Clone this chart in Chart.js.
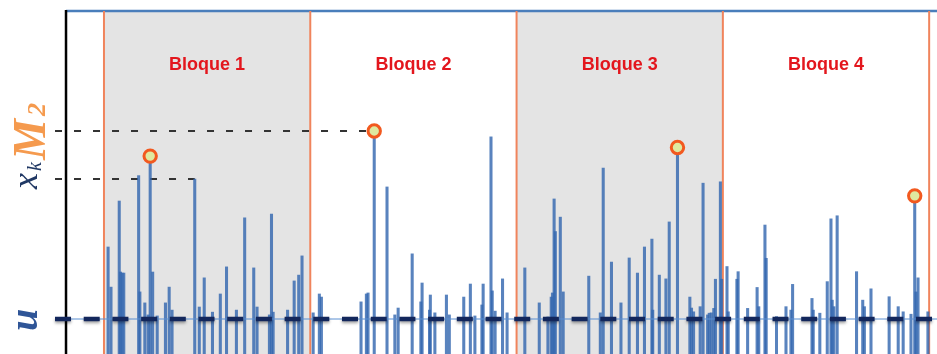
<!DOCTYPE html>
<html>
<head>
<meta charset="utf-8">
<script src="https://cdn.jsdelivr.net/npm/chart.js@4.4.1/dist/chart.umd.min.js"></script>
<style>
  html, body { margin: 0; padding: 0; background: #ffffff; }
  #wrap { width: 937px; height: 354px; }
</style>
</head>
<body>
<div id="wrap"><canvas id="c" width="937" height="354"></canvas></div>
<script>
// ---- data (time units: block length = 50; values in arbitrary units) ----
const blockLabels = ['Bloque 1', 'Bloque 2', 'Bloque 3', 'Bloque 4'];
const blockEdges = [0, 50, 100, 150, 200];
const shadedBlocks = [0, 2];

const obsTime = [
  1.0,1.7,3.7,4.0,4.4,4.8,8.4,8.7,9.9,10.7,11.2,11.8,12.9,14.9,15.8,16.5,22.0,23.1,24.3,26.3,28.2,29.7,32.1,34.1,36.3,37.1,40.1,40.6,41.0,44.5,46.1,47.2,48.0,
  50.7,52.2,52.7,62.3,63.6,64.0,65.5,68.6,70.5,71.3,74.7,76.8,77.1,78.9,79.1,80.2,83.0,83.7,87.2,88.8,89.9,91.6,91.9,93.8,94.1,94.8,96.6,97.7,
  102.0,105.5,107.6,108.4,108.7,109.1,109.4,110.6,111.3,117.5,120.3,121.0,123.0,125.3,127.3,129.3,131.0,132.8,133.0,134.6,136.2,137.0,139.0,142.0,142.4,142.9,144.5,145.2,146.3,146.7,147.2,147.8,148.2,149.4,149.7,
  151.0,151.3,153.4,153.7,156.0,158.3,158.7,160.2,160.5,163.0,165.3,166.5,166.9,171.6,171.9,173.5,175.3,176.2,176.5,176.9,177.7,182.4,183.9,184.3,185.9,190.3,192.5,193.7,195.6,196.5,196.8,197.3,199.7
];
const obsValue = [
  31.2,19.5,44.6,23.9,23.6,23.6,52.0,18.1,14.9,11.4,57.7,23.9,11.1,14.9,19.5,12.8,51.0,13.7,22.2,12.2,17.5,25.4,12.8,39.7,25.1,13.7,11.4,40.8,12.2,12.8,21.3,23.0,28.6,
  12.0,17.5,16.6,15.2,17.5,17.8,65.0,48.7,11.4,13.4,29.2,15.2,20.7,12.8,17.2,12.0,17.2,11.4,16.6,20.4,11.1,14.3,20.4,63.3,18.4,12.5,21.9,12.0,
  25.1,14.9,10.8,16.6,17.8,45.2,35.7,39.9,18.1,22.7,12.0,54.2,26.8,14.9,28.0,23.6,31.2,33.5,12.8,23.0,21.9,38.5,60.2,16.6,13.4,12.3,13.8,49.8,11.4,11.9,12.0,13.3,21.8,50.2,21.8,
  25.5,12.3,21.8,24.0,13.3,19.4,13.8,37.6,27.9,10.9,13.8,12.8,20.3,16.2,12.8,11.9,21.1,39.4,15.7,13.8,40.3,24.0,15.7,13.8,19.0,16.7,13.8,12.3,11.6,46.1,18.1,22.2,12.3
];

const maxTime  = [11.2, 65.5, 139.0, 196.5];
const maxValue = [57.7, 65.0, 60.2, 46.1];

const thresholdU = 10.2;
const xkTime = 22.0;
const xkValue = 51.0;
const m2Index = 1;

const axisTime = -9.2;
const frameTop = 100;
const labelValue = 84.3;

// ---- drawing helpers ----
const diagram = {
  id: 'diagram',
  beforeDatasetsDraw(chart) {
    const { ctx, scales: { x, y } } = chart;
    const top = y.getPixelForValue(frameTop);
    const bottom = chart.height;
    const axisX = x.getPixelForValue(axisTime);
    ctx.save();
    // shaded blocks
    ctx.fillStyle = '#e4e4e4';
    shadedBlocks.forEach(i => {
      const a = x.getPixelForValue(blockEdges[i]);
      const b = x.getPixelForValue(blockEdges[i + 1]);
      ctx.fillRect(a, top, b - a, bottom - top);
    });
    // top frame line
    ctx.strokeStyle = '#4a7ebb';
    ctx.lineWidth = 2.5;
    ctx.beginPath();
    ctx.moveTo(axisX, top);
    ctx.lineTo(chart.width, top);
    ctx.stroke();
    // block separators
    ctx.strokeStyle = '#f0845c';
    ctx.lineWidth = 2;
    blockEdges.forEach(e => {
      const px = x.getPixelForValue(e);
      ctx.beginPath();
      ctx.moveTo(px, top);
      ctx.lineTo(px, bottom);
      ctx.stroke();
    });
    // vertical axis
    ctx.strokeStyle = '#000000';
    ctx.lineWidth = 2.5;
    ctx.beginPath();
    ctx.moveTo(axisX, top - 1);
    ctx.lineTo(axisX, bottom);
    ctx.stroke();
    // block labels
    ctx.fillStyle = '#e3161d';
    ctx.font = 'bold 18px "Liberation Sans", Arial, sans-serif';
    ctx.textAlign = 'center';
    ctx.textBaseline = 'middle';
    blockLabels.forEach((lab, i) => {
      const cx = (x.getPixelForValue(blockEdges[i]) + x.getPixelForValue(blockEdges[i + 1])) / 2;
      ctx.fillText(lab, cx, y.getPixelForValue(labelValue));
    });
    // dashed reference lines (M2 and x_k)
    ctx.strokeStyle = '#333333';
    ctx.lineWidth = 2;
    ctx.setLineDash([7, 12]);
    const ym = y.getPixelForValue(maxValue[m2Index]);
    ctx.beginPath();
    ctx.moveTo(axisX - 11, ym);
    ctx.lineTo(x.getPixelForValue(maxTime[m2Index]) - 7, ym);
    ctx.stroke();
    const yk = y.getPixelForValue(xkValue);
    ctx.beginPath();
    ctx.moveTo(axisX - 11, yk);
    ctx.lineTo(x.getPixelForValue(xkTime), yk);
    ctx.stroke();
    ctx.restore();
  },
  afterDatasetsDraw(chart) {
    const { ctx, scales: { x, y } } = chart;
    const axisX = x.getPixelForValue(axisTime);
    const yu = y.getPixelForValue(thresholdU);
    ctx.save();
    // thin threshold line
    ctx.strokeStyle = '#5a8fd2';
    ctx.lineWidth = 1;
    ctx.beginPath();
    ctx.moveTo(axisX - 11, yu);
    ctx.lineTo(chart.width, yu);
    ctx.stroke();
    // thick dashed threshold
    ctx.shadowColor = 'rgba(0,0,0,0.35)';
    ctx.shadowBlur = 3;
    ctx.shadowOffsetY = 2;
    ctx.strokeStyle = '#13275c';
    ctx.lineWidth = 4.5;
    ctx.setLineDash([16, 12.7]);
    ctx.beginPath();
    ctx.moveTo(axisX - 11, yu);
    ctx.lineTo(chart.width, yu);
    ctx.stroke();
    ctx.restore();

    // rotated left labels
    ctx.save();
    ctx.textAlign = 'left';
    ctx.textBaseline = 'alphabetic';
    // M_2
    ctx.save();
    ctx.translate(45, 160);
    ctx.rotate(-Math.PI / 2);
    ctx.fillStyle = '#f59a4e';
    ctx.font = 'bold italic 46px "Liberation Serif", "DejaVu Serif", serif';
    ctx.fillText('M', 0, 0);
    ctx.font = 'bold italic 26px "Liberation Serif", "DejaVu Serif", serif';
    ctx.fillText('2', 44, 0);
    ctx.restore();
    // x_k
    ctx.save();
    ctx.translate(37, 189);
    ctx.rotate(-Math.PI / 2);
    ctx.fillStyle = '#203864';
    ctx.font = 'italic 36px "Liberation Serif", "DejaVu Serif", serif';
    ctx.fillText('x', 0, 0);
    ctx.font = 'italic 20px "Liberation Serif", "DejaVu Serif", serif';
    ctx.fillText('k', 18, 4);
    ctx.restore();
    // u
    ctx.save();
    ctx.translate(37, 331);
    ctx.rotate(-Math.PI / 2);
    ctx.fillStyle = '#2f5597';
    ctx.font = 'bold italic 40px "Liberation Serif", "DejaVu Serif", serif';
    ctx.fillText('u', 0, 0);
    ctx.restore();
    ctx.restore();
  }
};

const barData = obsTime.map((t, i) => ({ x: t, y: obsValue[i] }));
const maxData = maxTime.map((t, i) => ({ x: t, y: maxValue[i] }));

new Chart(document.getElementById('c'), {
  type: 'bar',
  data: {
    datasets: [
      {
        type: 'line',
        data: maxData,
        showLine: false,
        pointRadius: 6.2,
        pointBorderWidth: 3,
        pointBorderColor: '#f2591f',
        pointBackgroundColor: '#dfe9a0',
        clip: false,
        order: 0
      },
      {
        type: 'bar',
        data: barData,
        backgroundColor: 'rgba(52,104,176,0.82)',
        borderWidth: 0,
        barThickness: 2.4,
        order: 1
      }
    ]
  },
  options: {
    responsive: false,
    devicePixelRatio: 1,
    animation: false,
    events: [],
    layout: { padding: 0, autoPadding: false },
    plugins: { legend: { display: false }, tooltip: { enabled: false } },
    scales: {
      x: { type: 'linear', min: -25.2, max: 201.9, offset: false, display: false },
      y: { type: 'linear', min: 0, max: 103.2, display: false }
    }
  },
  plugins: [diagram]
});
</script>
</body>
</html>
